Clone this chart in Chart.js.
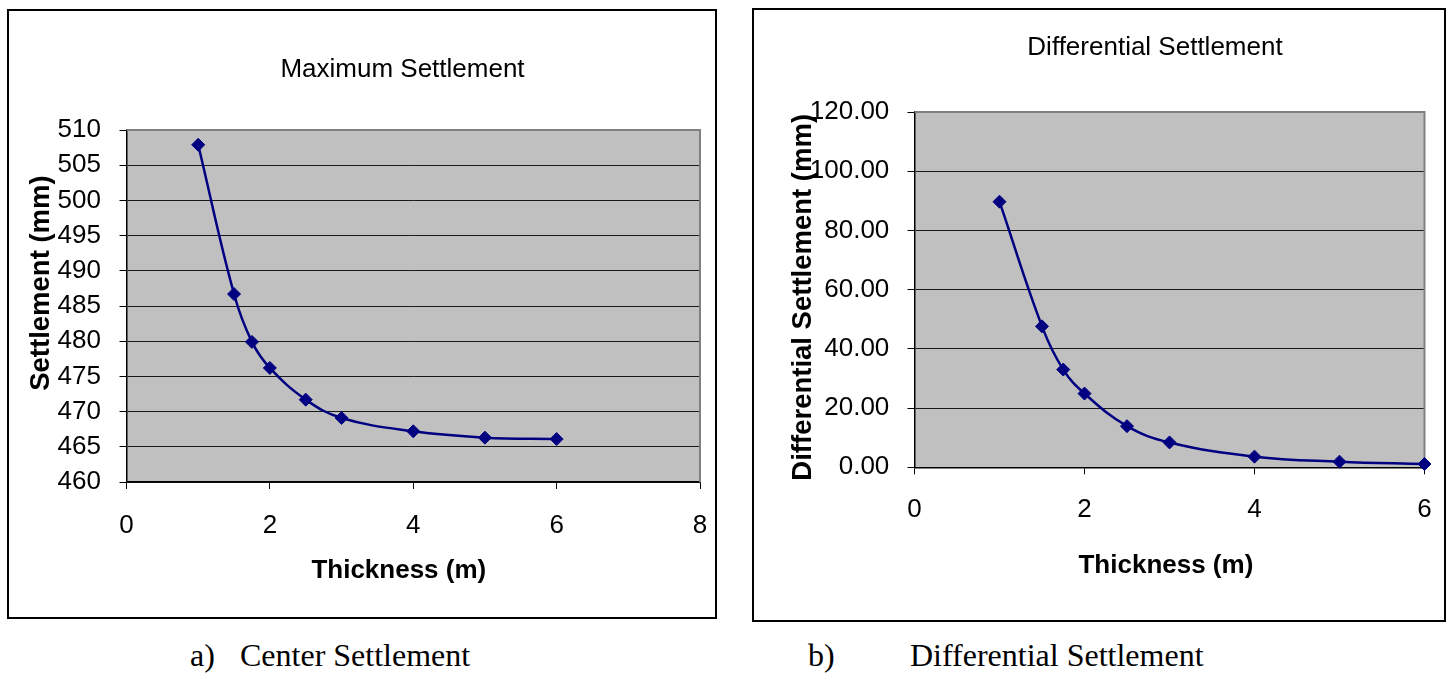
<!DOCTYPE html>
<html>
<head>
<meta charset="utf-8">
<script src="https://cdn.jsdelivr.net/npm/chart.js@4.4.0/dist/chart.umd.min.js"></script>
<style>
  html, body { margin: 0; padding: 0; background: #fff; }
  body { position: relative; width: 1450px; height: 673px; overflow: hidden; }
  .frame { position: absolute; border: 2px solid #000; box-sizing: border-box; }
  canvas { position: absolute; top: 0; }
  .caption { position: absolute; top: 639px; font-family: "Liberation Serif", "Times New Roman", serif;
             font-size: 32px; line-height: 32px; color: #000; white-space: pre; }
</style>
</head>
<body>
<div class="frame" style="left:7px; top:9px; width:710px; height:610px;"></div>
<div class="frame" style="left:752px; top:8px; width:694px; height:614px;"></div>
<canvas id="centerChart" width="805" height="630" style="left:0px;"></canvas>
<canvas id="diffChart" width="750" height="630" style="left:780px;"></canvas>
<span class="caption" style="left:190px;">a)</span>
<span class="caption" style="left:240px;">Center Settlement</span>
<span class="caption" style="left:808px;">b)</span>
<span class="caption" style="left:910px;">Differential Settlement</span>
<script>
// Layer thickness (m) and the resulting settlements (mm)
const thickness      = [1, 1.5, 1.75, 2, 2.5, 3, 4, 5, 6];
const maxSettlement  = [507.9, 486.7, 479.9, 476.2, 471.7, 469.1, 467.2, 466.3, 466.1];
const diffSettlement = [89.7, 47.6, 33.0, 24.9, 13.9, 8.4, 3.6, 1.9, 1.1];

// Axis ranges
const centerX = { min: 0, max: 8, step: 2 };
const centerY = { min: 460, max: 510, step: 5 };
const diffX   = { min: 0, max: 6, step: 2 };
const diffY   = { min: 0, max: 120, step: 20 };

const FONT = '"Liberation Sans", Arial, sans-serif';
const NAVY = '#000080';
const NBSP = '\u00a0';

// grey plot background with a grey frame on the top and right edges
const plotFrame = {
  id: 'plotFrame',
  beforeDraw(chart) {
    const { ctx, chartArea: a } = chart;
    ctx.save();
    ctx.fillStyle = '#c0c0c0';
    ctx.fillRect(a.left, a.top, a.right - a.left, a.bottom - a.top);
    ctx.restore();
  },
  beforeDatasetsDraw(chart) {
    const { ctx, chartArea: a } = chart;
    ctx.save();
    ctx.strokeStyle = '#808080';
    ctx.lineWidth = 2;
    ctx.beginPath();
    ctx.moveTo(a.left, a.top);
    ctx.lineTo(a.right, a.top);
    ctx.lineTo(a.right, a.bottom);
    ctx.stroke();
    ctx.restore();
  }
};

function buildChart(canvasId, cfg) {
  const points = thickness.map((t, i) => ({ x: t, y: cfg.values[i] }));
  return new Chart(document.getElementById(canvasId), {
    type: 'line',
    data: {
      datasets: [{
        data: points,
        borderColor: NAVY,
        borderWidth: 2.5,
        tension: 0.4,
        pointStyle: 'rectRot',
        pointRadius: 6.5,
        pointBackgroundColor: NAVY,
        pointBorderColor: NAVY,
        pointBorderWidth: 1,
        clip: false
      }]
    },
    plugins: [plotFrame],
    options: {
      responsive: false,
      devicePixelRatio: 1,
      animation: false,
      events: [],
      layout: { padding: 0 },
      plugins: {
        legend: { display: false },
        tooltip: { enabled: false },
        title: {
          display: true,
          text: cfg.title,
          color: '#000',
          font: { family: FONT, size: 26, weight: 'normal' },
          padding: cfg.titlePad
        }
      },
      scales: {
        x: {
          type: 'linear',
          min: cfg.xRange.min, max: cfg.xRange.max,
          afterFit(s) { s.height = cfg.xAxisHeight; },
          ticks: { stepSize: cfg.xRange.step, color: '#000', padding: cfg.xTickPad,
                   font: { family: FONT, size: 26 } },
          grid: { drawOnChartArea: false, drawTicks: true, tickLength: 7, tickColor: '#000', tickWidth: 1 },
          border: { color: '#000', width: 1.5 },
          title: { display: true, text: cfg.xTitle, color: '#000',
                   font: { family: FONT, size: 26, weight: 'bold' },
                   padding: { top: 0, bottom: cfg.xTitleBottom } }
        },
        y: {
          type: 'linear',
          min: cfg.yRange.min, max: cfg.yRange.max,
          afterFit(s) { s.width = cfg.yAxisWidth; },
          ticks: { stepSize: cfg.yRange.step, color: '#000', padding: cfg.yTickPad,
                   font: { family: FONT, size: 26 },
                   callback: cfg.yFormat },
          grid: { color: '#1a1a1a', lineWidth: 1, tickLength: 7, tickColor: '#000' },
          border: { color: '#000', width: 1.5 },
          title: { display: true, text: cfg.yTitle, color: '#000',
                   font: { family: FONT, size: 27.5, weight: 'bold' },
                   padding: { top: cfg.yTitleTop, bottom: 0 } }
        },
        // empty right-hand margin so the title sits centred over the figure
        margin: {
          type: 'linear', position: 'right', display: true,
          afterFit(s) { s.width = cfg.rightMargin; },
          ticks: { display: false },
          grid: { display: false, drawTicks: false },
          border: { display: false }
        }
      }
    }
  });
}

buildChart('centerChart', {
  values: maxSettlement,
  title: 'Maximum Settlement',
  titlePad: { top: 53.9, bottom: 44.9 },
  xRange: centerX, yRange: centerY,
  xAxisHeight: 148, xTickPad: 21.4, xTitleBottom: 43.4,
  xTitle: 'Thickness (m)' + NBSP.repeat(4),
  yAxisWidth: 126.5, yTickPad: 18.5, yTitleTop: 24.9,
  yTitle: NBSP.repeat(6) + 'Settlement (mm)',
  yFormat: v => String(v),
  rightMargin: 105
});

buildChart('diffChart', {
  values: diffSettlement,
  title: 'Differential Settlement',
  titlePad: { top: 32.4, bottom: 48.4 },
  xRange: diffX, yRange: diffY,
  xAxisHeight: 162.7, xTickPad: 20, xTitleBottom: 48.4,
  xTitle: 'Thickness (m)' + NBSP,
  yAxisWidth: 134.5, yTickPad: 18.2, yTitleTop: 6.9,
  yTitle: 'Differential Settlement (mm)' + NBSP.repeat(2),
  yFormat: v => Number(v).toFixed(2),
  rightMargin: 105.5
});
</script>
</body>
</html>
